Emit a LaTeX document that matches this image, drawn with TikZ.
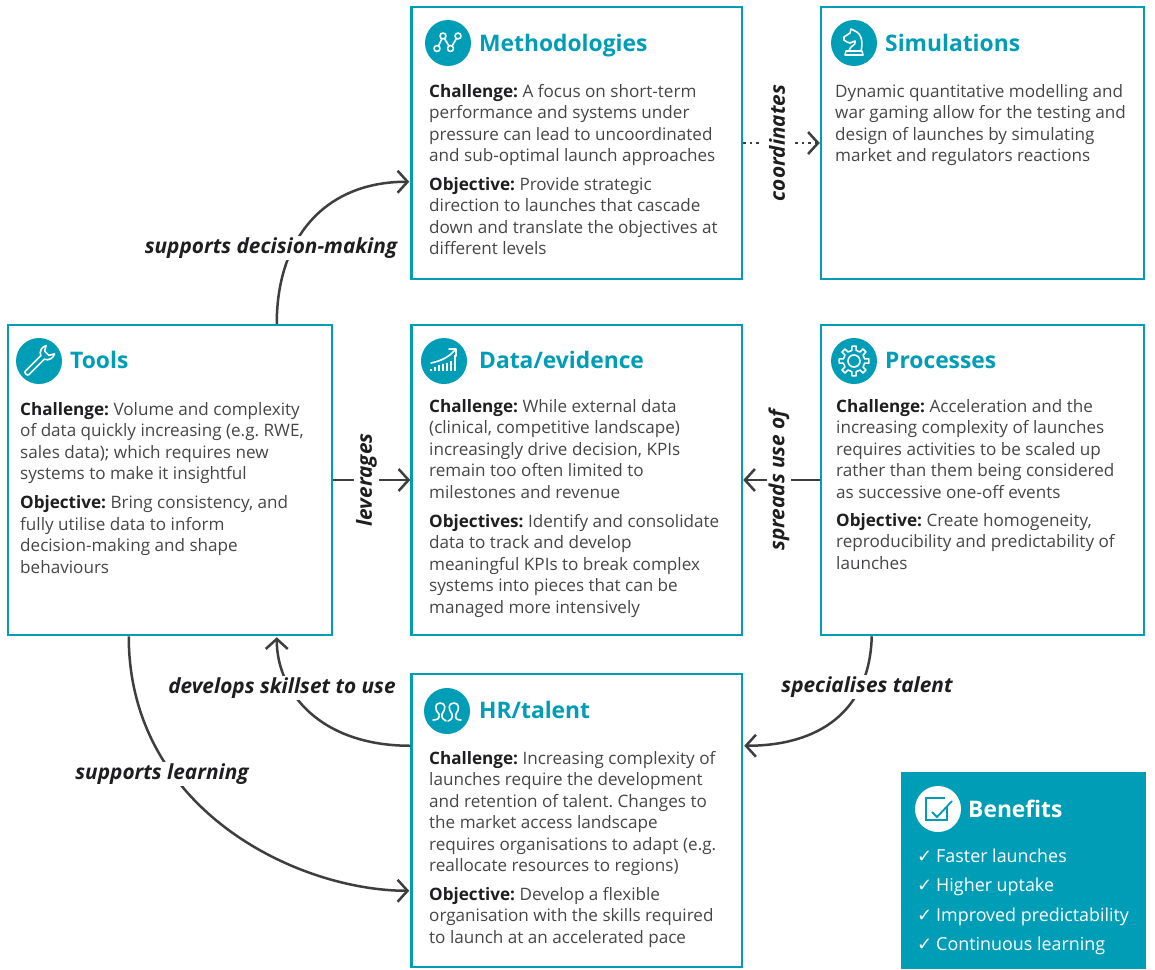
\documentclass[tikz,border=0pt]{standalone}
\usepackage{fontspec}
\setmainfont{Open Sans}
\newfontfamily\checkfont{DejaVu Sans}
\usetikzlibrary{arrows.meta,calc}
\definecolor{teal}{RGB}{0,157,183}
\definecolor{bodygrey}{RGB}{70,70,72}
\definecolor{leadgrey}{RGB}{30,30,32}
\definecolor{linkgrey}{RGB}{62,62,64}
\newcommand{\leadin}[1]{{\bfseries\color{leadgrey}#1}}
\newcommand{\tick}{{\checkfont\fontsize{18}{18}\selectfont ✓}}
\tikzset{
  box/.style={draw=teal,line width=2.5pt,fill=white,inner sep=0pt,rectangle},
  para/.style={anchor=north west,inner sep=0pt,align=left,text=bodygrey,font=\frenchspacing\fontsize{17.1}{21.5}\selectfont},
  head/.style={anchor=base west,inner sep=0pt,text=teal,font=\fontsize{22.8}{26}\selectfont\bfseries},
  badge/.style={circle,fill=teal,minimum size=46pt,inner sep=0pt},
  icon/.style={draw=white,line width=1.6pt,line cap=round,line join=round},
  link/.style={draw=linkgrey,line width=2.5pt,-{Straight Barb[length=10pt,width=22pt]}},
  tag/.style={fill=white,inner sep=2pt,text=leadgrey,font=\fontsize{20.8}{25}\selectfont\bfseries\itshape},
}
\begin{document}
\begin{tikzpicture}[x=1pt,y=-1pt]
\useasboundingbox (0,0) rectangle (1155,969);
\fill[white] (0,0) rectangle (1155,969);

% boxes
\node[box,minimum width=330.5pt,minimum height=272pt] (meth) at (576.75,143) {};
\node[box,minimum width=323pt,minimum height=272pt] (sim) at (982.5,143) {};
\node[box,minimum width=324pt,minimum height=310pt] (tools) at (170,480) {};
\node[box,minimum width=330.5pt,minimum height=310pt] (data) at (576.75,480) {};
\node[box,minimum width=323pt,minimum height=310pt] (proc) at (982.5,480) {};
\node[box,minimum width=330.5pt,minimum height=293pt] (hr) at (576.75,820.5) {};
\node[fill=teal,inner sep=0pt,minimum width=245pt,minimum height=197pt] (ben) at (1023.5,870.5) {};

% anchors of the curved connectors
\coordinate (toolsTop) at ($(tools.north west)+(270,0)$);
\coordinate (methIn) at ($(meth.north west)+(-1,176)$);
\coordinate (procOut) at ($(proc.south west)+(52,0)$);
\coordinate (hrOut) at ($(hr.north west)+(0,73)$);
\coordinate (hrRight) at ($(hr.north east)+(1,73)$);
\coordinate (toolsIn) at ($(tools.south west)+(270,1)$);
\coordinate (toolsOut) at ($(tools.south west)+(122,0)$);
\coordinate (hrLow) at ($(hr.north west)+(-1,218)$);

% connectors
\draw[link] (toolsTop) .. controls +(0,-85) and +(-85,0) .. (methIn);
\draw[link,dash pattern=on 2.5pt off 4pt] (meth) -- (sim);
\draw[link] (tools) -- (data);
\draw[link] (proc) -- (data);
\draw[link] (procOut) .. controls +(-2,75) and +(75,0) .. (hrRight);
\draw[link] (hrOut) .. controls +(-90,0) and +(0,55) .. (toolsIn);
\draw[link] (toolsOut) .. controls +(0,175) and +(-110,0) .. (hrLow);

% connector labels
\node[tag] (lDecision) at (271,248) {supports decision-making};
\node[tag,rotate=90,inner ysep=6pt] (lCoord) at (777,143) {coordinates};
\node[tag,rotate=90] (lLever) at (366.5,480) {leverages};
\node[tag,rotate=90] (lSpread) at (779,480) {spreads use of};
\node[tag] (lSpec) at (867,687) {specialises talent};
\node[tag] (lSkill) at (282,688) {develops skillset to use};
\node[tag] (lLearn) at (162,774) {supports learning};

% badges
\node[badge] (bMeth) at (448,43) {};
\node[badge] (bSim) at (854,43) {};
\node[badge] (bTools) at (39,361) {};
\node[badge] (bData) at (444,361) {};
\node[badge] (bProc) at (854,361) {};
\node[badge] (bHr) at (447,711) {};
\node[circle,fill=white,minimum size=46pt,inner sep=0pt] (bBen) at (938,809) {};

% icon: linked points
\begin{scope}[shift={(448,43)}]
  \draw[icon] (-9.5,3) -- (-6,-4.5) (-3.5,-4.5) -- (1,3) (4,3) -- (8.5,-4.5);
  \foreach \p in {(-11,5.5),(-5,-7),(2.5,5.5),(10,-7)} \draw[icon] \p circle (3);
\end{scope}
% icon: knight
\begin{scope}[shift={(854,43)}]
  \draw[icon] (-8,8) -- (8,8) -- (9,12) -- (-9,12) -- cycle;
  \draw[icon] (-5,8) .. controls (-5,3) and (3,2) .. (1,-2) -- (-4,0) -- (-7,-1) -- (-10,-3) -- (-10,-6) -- (-4,-10) -- (-3,-14) -- (1,-12) .. controls (8,-9) and (9,0) .. (7,8);
\end{scope}
% icon: wrench
\begin{scope}[shift={(39,361)},rotate=45]
  \draw[icon] (-17,-2.5) -- (5,-2.5) .. controls (7,-7) and (12,-8) .. (16,-6) -- (11,-3) -- (11,3) -- (16,6) .. controls (12,8) and (7,7) .. (5,2.5) -- (-17,2.5) .. controls (-19,2.5) and (-19,-2.5) .. (-17,-2.5) -- cycle;
\end{scope}
% icon: chart
\begin{scope}[shift={(444,361)}]
  \foreach \x/\h in {-13/2,-9/4,-5/6,-1/7,3/8,7/10,11/16}
    \draw[draw=white,line width=1.8pt] (\x,10) -- (\x,10-\h);
  \draw[icon] (-13,2) .. controls (-4,0) and (4,-3) .. (11,-11);
  \draw[icon] (5,-12) -- (12,-12) -- (12,-5);
\end{scope}
% icon: gear
\begin{scope}[shift={(854,361)}]
  \foreach \a in {0,45,...,315}
    \draw[icon] (\a-22.5:10.5) -- (\a-11:11) -- (\a-8:15) -- (\a+8:15) -- (\a+11:11) -- (\a+22.5:10.5);
  \draw[icon] (0,0) circle (6);
\end{scope}
% icon: people
\begin{scope}[shift={(447,711)}]
  \draw[icon] (-14,9) .. controls (-9,9) and (-7,7) .. (-8,3) .. controls (-13,-2) and (-12,-8) .. (-7,-8) .. controls (-1,-8) and (-1,-2) .. (-5,3) .. controls (-6,7) and (-3,9) .. (-1,10);
  \draw[icon] (14,9) .. controls (9,9) and (8,7) .. (9,3) .. controls (13,-2) and (12,-8) .. (7,-8) .. controls (1,-8) and (1,-2) .. (5,3) .. controls (6,7) and (4,9) .. (1,10);
\end{scope}
% icon: checked box
\begin{scope}[shift={(938,809)}]
  \draw[draw=teal,line width=1.5pt] (9,-3) -- (9,11) -- (-12,11) -- (-12,-11) -- (7,-11);
  \draw[draw=teal,line width=1.8pt] (-6,3) -- (-1,8) -- (14,-8);
\end{scope}

% titles
\node[head] (tMeth) at (479,51) {Methodologies};
\node[head] (tSim) at (885,51) {Simulations};
\node[head] (tTools) at (70,368) {Tools};
\node[head] (tData) at (479,368) {Data/evidence};
\node[head] (tProc) at (885,368) {Processes};
\node[head] (tHr) at (479,718) {HR/talent};
\node[head,text=white] (tBen) at (968,817) {Benefits};

% body text
\node[para] (mA) at (429,82) {\strut\leadin{Challenge:} A focus on short-term\\performance and systems under\\pressure can lead to uncoordinated\\and sub-optimal launch approaches};
\node[para] (mB) at (429,175) {\strut\leadin{Objective:} Provide strategic\\direction to launches that cascade\\down and translate the objectives at\\different levels};
\node[para] (sA) at (835,82) {\strut Dynamic quantitative modelling and\\war gaming allow for the testing and\\design of launches by simulating\\market and regulators reactions};
\node[para] (tA) at (20,400) {\strut\leadin{Challenge:} Volume and complexity\\of data quickly increasing (e.g. RWE,\\sales data); which requires new\\systems to make it insightful};
\node[para] (tB) at (20,493.5) {\strut\leadin{Objective:} Bring consistency, and\\fully utilise data to inform\\decision-making and shape\\behaviours};
\node[para] (dA) at (429,397) {\strut\leadin{Challenge:} While external data\\(clinical, competitive landscape)\\increasingly drive decision, KPIs\\remain too often limited to\\milestones and revenue};
\node[para] (dB) at (429,512) {\strut\leadin{Objectives:} Identify and consolidate\\data to track and develop\\meaningful KPIs to break complex\\systems into pieces that can be\\managed more intensively};
\node[para] (pA) at (836,397) {\strut\leadin{Challenge:} Acceleration and the\\increasing complexity of launches\\requires activities to be scaled up\\rather than them being considered\\as successive one-off events};
\node[para] (pB) at (836,511) {\strut\leadin{Objective:} Create homogeneity,\\reproducibility and predictability of\\launches};
\node[para] (hA) at (429,749) {\strut\leadin{Challenge:} Increasing complexity of\\launches require the development\\and retention of talent. Changes to\\the market access landscape\\requires organisations to adapt (e.g.\\reallocate resources to regions)};
\node[para] (hB) at (429,885) {\strut\leadin{Objective:} Develop a flexible\\organisation with the skills required\\to launch at an accelerated pace};

% benefits list
\foreach \y/\t [count=\i] in {862/Faster launches,891/Higher uptake,921/Improved predictability,950/Continuous learning}{
  \node[anchor=base west,inner sep=0pt,text=white] (benTick\i) at (917,\y) {\tick};
  \node[anchor=base west,inner sep=0pt,text=white,font=\frenchspacing\fontsize{17.9}{21}\selectfont] (benText\i) at (936,\y) {\t};
}
\end{tikzpicture}
\end{document}
